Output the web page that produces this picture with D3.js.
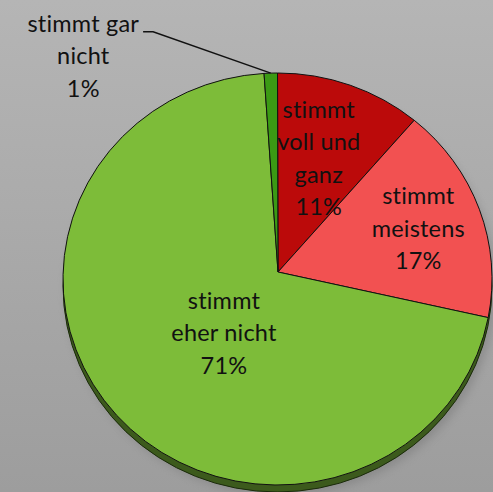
<!DOCTYPE html>
<html>
<head>
<meta charset="utf-8">
<script src="https://cdn.jsdelivr.net/npm/d3@7"></script>
<style>
  html, body { margin: 0; padding: 0; background: #a8a8a8; }
  svg { display: block; }
  .label { font-family: Lato, "Open Sans", sans-serif; font-size: 23.5px; letter-spacing: 0.2px; fill: #111; }
</style>
</head>
<body>
<div id="chart"></div>
<script>
// Survey answers, clockwise from 12 o'clock
const categories = ['stimmt voll und ganz', 'stimmt meistens', 'stimmt eher nicht', 'stimmt gar nicht']
const percents = [11, 17, 71, 1]
const labelLines = [
  ['stimmt', 'voll und', 'ganz', '11%'],
  ['stimmt', 'meistens', '17%'],
  ['stimmt', 'eher nicht', '71%'],
  ['stimmt gar', 'nicht', '1%']
]
const colors = ['#bb0a0a', '#f25151', '#7dbc39', '#3b9a14']

// Layout
const width = 493
const height = 492
const cx = 277.5, cy = 279       // centre of the ellipse (top face)
const rx = 214.5, ry = 206
const vx = 278, vy = 272         // apex of slices (perspective shift)
const depth = 7
const lineHeight = 32.5
// label anchors: angle (deg, clockwise from top) and distance from apex
const labelLayout = [
  { angle: 20.4, r: 117 },
  { angle: 75.4, r: 145 },
  { angle: 216.9, r: 90 },
  { angle: 318, r: 291 }
]

const svg = d3.select('#chart')
  .append('svg')
  .attr('width', width)
  .attr('height', height)

const defs = svg.append('defs')
const bg = defs.append('linearGradient')
  .attr('id', 'bg')
  .attr('x1', 0).attr('y1', 0).attr('x2', 0).attr('y2', 1)
bg.append('stop').attr('offset', '0%').attr('stop-color', '#b5b5b5')
bg.append('stop').attr('offset', '100%').attr('stop-color', '#9d9d9d')

const blur = defs.append('filter').attr('id', 'shadow')
  .attr('x', '-20%').attr('y', '-20%').attr('width', '140%').attr('height', '140%')
blur.append('feGaussianBlur').attr('stdDeviation', 5)

svg.append('rect')
  .attr('width', width)
  .attr('height', height)
  .attr('fill', 'url(#bg)')

// point on the ellipse rim for a pie angle (radians, clockwise from top)
const rim = (a, dy = 0) => [cx + rx * Math.sin(a), cy - ry * Math.cos(a) + dy]

const pie = d3.pie().sort(null).value(d => d)
const arcs = pie(percents)

// soft shadow + side of the disc
svg.append('ellipse')
  .attr('cx', cx + 4).attr('cy', cy + depth + 3)
  .attr('rx', rx).attr('ry', ry)
  .attr('fill', '#6e6e6e')
  .attr('opacity', 0.45)
  .attr('filter', 'url(#shadow)')

svg.append('ellipse')
  .attr('cx', cx).attr('cy', cy + depth)
  .attr('rx', rx).attr('ry', ry)
  .attr('fill', '#3c5a1c')
  .attr('stroke', '#1a2a0a')
  .attr('stroke-width', 1)

const slicePath = d => {
  const p = d3.path()
  const [x0, y0] = rim(d.startAngle)
  const [x1, y1] = rim(d.endAngle)
  p.moveTo(vx, vy)
  p.lineTo(x0, y0)
  const large = d.endAngle - d.startAngle > Math.PI ? 1 : 0
  return p.toString() + `A${rx},${ry} 0 ${large} 1 ${x1},${y1}Z`
}

svg.append('g').selectAll('path')
  .data(arcs)
  .enter().append('path')
  .attr('class', 'slice')
  .attr('d', slicePath)
  .attr('fill', (d, i) => colors[i])
  .attr('stroke', '#111')
  .attr('stroke-width', 1)
  .attr('stroke-linejoin', 'round')

// labels
const toRad = deg => deg * Math.PI / 180
const labels = svg.append('g').selectAll('text')
  .data(arcs)
  .enter().append('text')
  .attr('class', 'label')
  .attr('text-anchor', 'middle')
  .each(function (d, i) {
    const lay = labelLayout[i]
    const lx = vx + lay.r * Math.sin(toRad(lay.angle))
    const ly = vy - lay.r * (ry / rx) * Math.cos(toRad(lay.angle))
    const lines = labelLines[i]
    const y0 = ly - (lines.length - 1) * lineHeight / 2
    d3.select(this).selectAll('tspan')
      .data(lines)
      .enter().append('tspan')
      .attr('x', lx)
      .attr('y', (t, j) => y0 + j * lineHeight)
      .text(t => t)
    d.lx = lx
    d.ly0 = y0
  })

// leader line for the tiny slice
const small = arcs[3]
const [ex, ey] = rim((small.startAngle + small.endAngle) / 2)
const textW = labels.filter((d, i) => i === 3).select('tspan').node().getComputedTextLength()
const sx = small.lx + textW / 2 + 4
const sy = small.ly0
svg.append('polyline')
  .attr('points', [[sx, sy], [sx + 10, sy], [ex, ey]].map(p => p.join(',')).join(' '))
  .attr('fill', 'none')
  .attr('stroke', '#111')
  .attr('stroke-width', 1.5)
</script>
</body>
</html>
